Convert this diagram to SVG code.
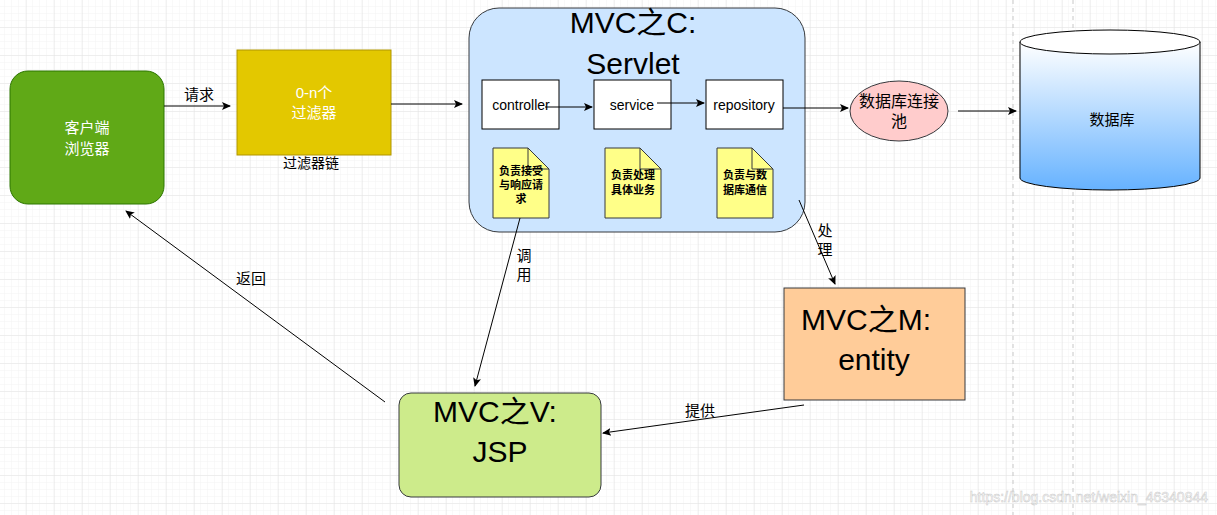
<svg xmlns="http://www.w3.org/2000/svg" width="1217" height="515" viewBox="0 0 1217 515">
<defs>
<pattern id="minor" width="7" height="7" patternUnits="userSpaceOnUse" x="-1" y="0"><path d="M7 0V7H0" fill="none" stroke="#f3f3f3" stroke-width="1"/></pattern>
<pattern id="major" width="28" height="28" patternUnits="userSpaceOnUse" x="-1" y="0"><rect width="28" height="28" fill="url(#minor)"/><path d="M28 0V28H0" fill="none" stroke="#e4e4e4" stroke-width="1"/></pattern>
<marker id="a" markerWidth="10" markerHeight="10" refX="8" refY="5" orient="auto" markerUnits="userSpaceOnUse"><path d="M0 1L9 5L0 9L2 5Z" fill="#000"/></marker>
<linearGradient id="db" x1="0" y1="0" x2="0" y2="1"><stop offset="0" stop-color="#ffffff"/><stop offset="1" stop-color="#66b2ff"/></linearGradient>
</defs>
<style>
text{font-family:"Liberation Sans","Noto Sans CJK SC",sans-serif;fill:#000}
.c line{stroke:#000;stroke-width:1;marker-end:url(#a)}
.note{fill:#ffff88;stroke:#36393d}
.nt{font-size:11px;font-weight:bold;text-anchor:middle}
.wb{fill:#fff;stroke:#000}
</style>
<rect width="1217" height="515" fill="#fff"/>
<rect width="1217" height="515" fill="url(#major)"/>
<line x1="1013" y1="0" x2="1013" y2="515" stroke="#c8c8c8" stroke-dasharray="4 4"/>
<line x1="1073" y1="0" x2="1073" y2="515" stroke="#c8c8c8" stroke-dasharray="4 4"/>
<g id="client"><rect x="10" y="71" width="154" height="133" rx="18" fill="#60a917" stroke="#2d7600"/><text x="87" y="133" font-size="15" fill="#fff" text-anchor="middle" style="fill:#fff">客户端</text><text x="87" y="154" font-size="15" text-anchor="middle" style="fill:#fff">浏览器</text></g>
<g id="filter"><rect x="237" y="50" width="154" height="105" fill="#e3c800" stroke="#b09500"/><text x="314" y="98" font-size="15" text-anchor="middle" style="fill:#fff">0-n个</text><text x="314" y="118" font-size="15" text-anchor="middle" style="fill:#fff">过滤器</text><text x="311" y="168" font-size="14" text-anchor="middle">过滤器链</text></g>
<g id="servlet"><rect x="469" y="8" width="336" height="224" rx="30" fill="#cce5ff" stroke="#36393d"/><text x="633" y="33" font-size="30" text-anchor="middle">MVC之C:</text><text x="633" y="74" font-size="30" text-anchor="middle">Servlet</text></g>
<g id="controller"><rect class="wb" x="482" y="80" width="77" height="49"/><text x="521" y="110" font-size="14" text-anchor="middle">controller</text></g>
<g id="service"><rect class="wb" x="594" y="80" width="77" height="49"/><text x="632" y="110" font-size="14" text-anchor="middle">service</text></g>
<g id="repository"><rect class="wb" x="706" y="80" width="77" height="49"/><text x="744" y="110" font-size="14" text-anchor="middle">repository</text></g>
<g id="note1"><path class="note" d="M493 148H528L549 169V218H493Z"/><path d="M528 148V169H549" fill="none" stroke="#36393d"/><text class="nt" x="521" y="175">负责接受</text><text class="nt" x="521" y="189">与响应请</text><text class="nt" x="521" y="203">求</text></g>
<g id="note2"><path class="note" d="M605 148H640L661 169V218H605Z"/><path d="M640 148V169H661" fill="none" stroke="#36393d"/><text class="nt" x="633" y="179">负责处理</text><text class="nt" x="633" y="194">具体业务</text></g>
<g id="note3"><path class="note" d="M717 148H752L773 169V218H717Z"/><path d="M752 148V169H773" fill="none" stroke="#36393d"/><text class="nt" x="745" y="179">负责与数</text><text class="nt" x="745" y="194">据库通信</text></g>
<g id="pool"><ellipse cx="899" cy="111" rx="49" ry="30" fill="#ffcccc" stroke="#36393d"/><text x="899" y="107" font-size="16" text-anchor="middle">数据库连接</text><text x="899" y="127" font-size="16" text-anchor="middle">池</text></g>
<g id="db"><path d="M1020 42V178A90 12 0 0 0 1200 178V42Z" fill="url(#db)" stroke="#000"/><ellipse cx="1110" cy="42" rx="90" ry="12" fill="#fff" stroke="#000"/><text x="1112" y="125" font-size="15" text-anchor="middle">数据库</text></g>
<g id="model"><rect x="784" y="288" width="181" height="112" fill="#ffcc99" stroke="#36393d"/><text x="866" y="330" font-size="30" text-anchor="middle">MVC之M:</text><text x="874" y="370" font-size="30" text-anchor="middle">entity</text></g>
<g id="view"><rect x="399" y="393" width="202" height="104" rx="12" fill="#cdeb8b" stroke="#36393d"/><text x="495" y="422" font-size="30" text-anchor="middle">MVC之V:</text><text x="500" y="462" font-size="30" text-anchor="middle">JSP</text></g>
<g class="c" id="connectors">
<line x1="164" y1="106" x2="230" y2="106"/><text x="199" y="100" font-size="15" text-anchor="middle">请求</text>
<line x1="391" y1="104" x2="462" y2="104"/>
<line x1="545" y1="107" x2="592" y2="107"/>
<line x1="657" y1="103" x2="704" y2="103"/>
<line x1="783" y1="108" x2="848" y2="108"/>
<line x1="958" y1="111" x2="1016" y2="111"/>
<line x1="799" y1="200" x2="835" y2="284"/><text x="825" y="236" font-size="15" text-anchor="middle">处</text><text x="825" y="255" font-size="15" text-anchor="middle">理</text>
<line x1="520" y1="218" x2="475" y2="386"/><text x="524" y="261" font-size="15" text-anchor="middle">调</text><text x="524" y="280" font-size="15" text-anchor="middle">用</text>
<line x1="804" y1="405" x2="603" y2="433"/><text x="700" y="416" font-size="15" text-anchor="middle">提供</text>
<line x1="385" y1="402" x2="126" y2="211"/><text x="251" y="284" font-size="15" text-anchor="middle">返回</text>
</g>
<text x="1208" y="502" font-size="14" text-anchor="end" style="fill:#ffffff;stroke:#bbb;stroke-width:0.5" opacity="0.8">https://blog.csdn.net/weixin_46340844</text>
</svg>
